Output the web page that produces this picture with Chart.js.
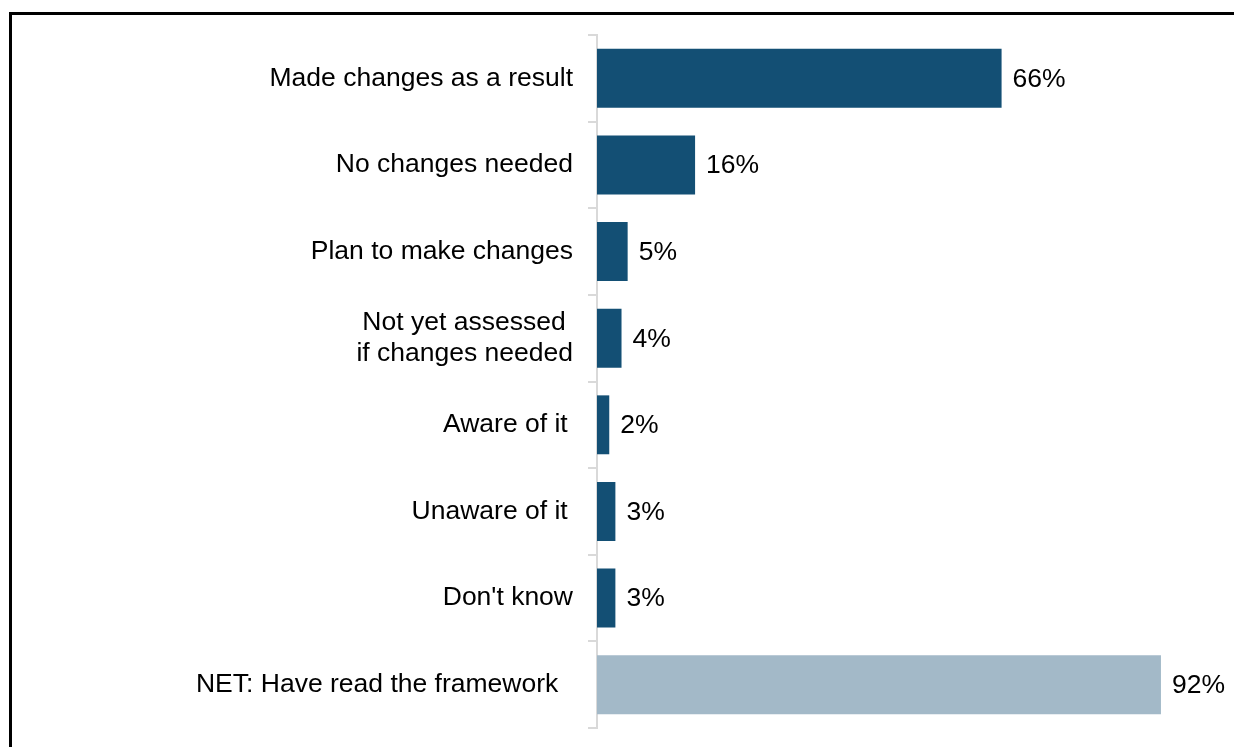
<!DOCTYPE html>
<html lang="en">
<head>
    <meta charset="UTF-8">
    <title>Framework awareness</title>
    <script src="https://cdn.jsdelivr.net/npm/chart.js@4.4.1/dist/chart.umd.min.js"></script>
    <style>
        body { margin: 0; background: #fff; overflow: hidden; }
        #frame {
            position: absolute; left: 9px; top: 12px; width: 1300px; height: 800px;
            border-left: 3px solid #000; border-top: 3px solid #000;
        }
        #wrap { position: absolute; left: 0; top: 0; width: 1234px; height: 747px; }
    </style>
</head>
<body>
    <div id="frame"></div>
    <div id="wrap"><canvas id="chart"></canvas></div>

    <script>
        const categories = [
            'Made changes as a result',
            'No changes needed',
            'Plan to make changes',
            ['Not yet assessed ', 'if changes needed'],
            'Aware of it\u2009',
            'Unaware of it\u2009',
            "Don't know",
            'NET: Have read the framework  '
        ];
        const values = [66, 16, 5, 4, 2, 3, 3, 92];
        const barColors = ['#134f74', '#134f74', '#134f74', '#134f74', '#134f74', '#134f74', '#134f74', '#a3b9c8'];

        const FONT = 'Liberation Sans, Arial, sans-serif';

        // draws the % value just past the end of each bar
        const valueLabels = {
            id: 'valueLabels',
            afterDatasetsDraw(chart) {
                const ctx = chart.ctx;
                const meta = chart.getDatasetMeta(0);
                ctx.save();
                ctx.font = '26.5px ' + FONT;
                ctx.fillStyle = '#000';
                ctx.textAlign = 'left';
                ctx.textBaseline = 'middle';
                meta.data.forEach((bar, i) => {
                    ctx.fillText(values[i] + '%', bar.x + 11, bar.y + 1);
                });
                ctx.restore();
            }
        };

        new Chart(document.getElementById('chart'), {
            type: 'bar',
            data: {
                labels: categories,
                datasets: [{
                    data: values,
                    backgroundColor: barColors,
                    borderWidth: 0,
                    barPercentage: 0.68,
                    categoryPercentage: 1
                }]
            },
            options: {
                indexAxis: 'y',
                responsive: true,
                maintainAspectRatio: false,
                animation: false,
                layout: { padding: { top: 35, bottom: 19, right: 24, left: 0 } },
                plugins: {
                    legend: { display: false },
                    tooltip: { enabled: false }
                },
                scales: {
                    x: { display: false, min: 0, max: 100 },
                    y: {
                        afterFit(scale) {
                            scale.width = 597;
                            scale.paddingTop = 0;
                            scale.paddingBottom = 0;
                        },
                        grid: {
                            offset: true,
                            drawOnChartArea: false,
                            drawTicks: true,
                            tickLength: 9,
                            color: '#d9d9d9',
                            lineWidth: 2
                        },
                        border: { color: '#d9d9d9', width: 2 },
                        ticks: {
                            color: '#000',
                            padding: 15,
                            font: { family: FONT, size: 26.5, lineHeight: 1.2 }
                        }
                    }
                }
            },
            plugins: [valueLabels]
        });
    </script>
</body>
</html>
